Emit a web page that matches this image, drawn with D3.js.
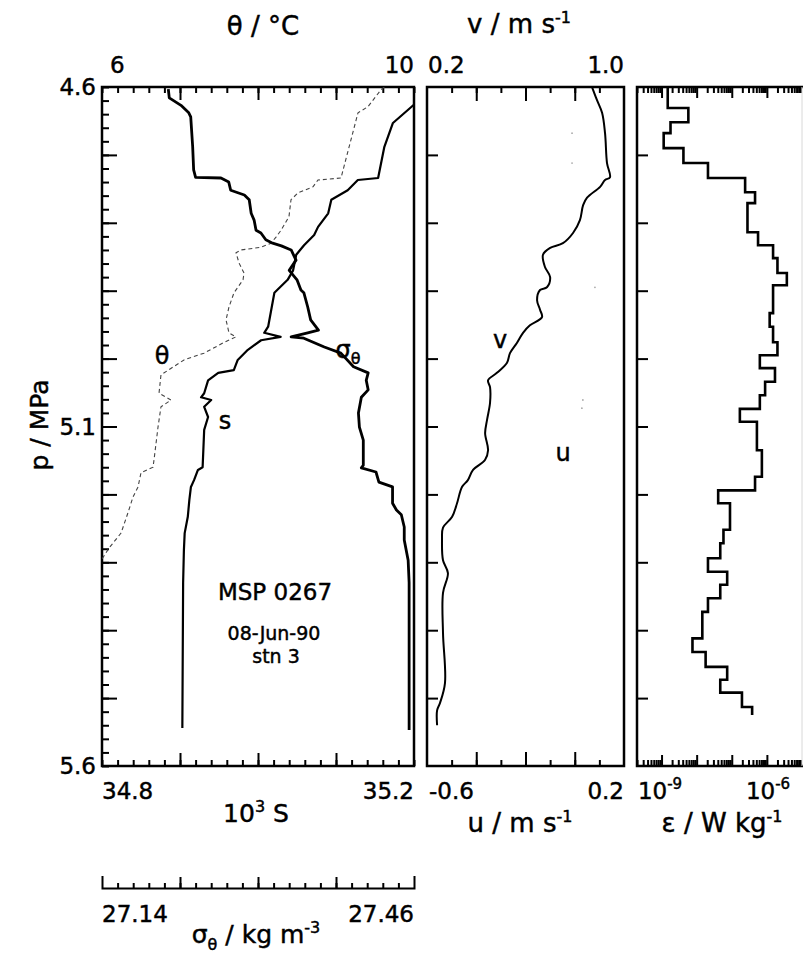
<!DOCTYPE html>
<html>
<head>
<meta charset="utf-8">
<script src="https://cdn.jsdelivr.net/npm/d3@7"></script>
<style>
body { margin: 0; background: #fff; }
svg text { font-family: "DejaVu Sans", sans-serif; fill: #000; stroke: #000; stroke-width: 0.45px; }
.tk line { stroke: #000; stroke-width: 2; }
</style>
</head>
<body>
<svg id="chart" width="803" height="958"></svg>
<script>

// sigma-theta profile, [pressure MPa, kg m-3]
var sigmaData = [[4.603,27.208],[4.616,27.209],[4.627,27.221],[4.638,27.229],[4.644,27.231],[4.688,27.233],[4.722,27.234],[4.733,27.236],[4.734,27.262],[4.740,27.270],[4.752,27.272],[4.759,27.286],[4.766,27.291],[4.786,27.293],[4.796,27.296],[4.811,27.298],[4.815,27.303],[4.825,27.308],[4.830,27.315],[4.834,27.324],[4.840,27.334],[4.855,27.339],[4.870,27.332],[4.884,27.340],[4.899,27.344],[4.903,27.347],[4.924,27.351],[4.943,27.354],[4.958,27.362],[4.962,27.351],[4.968,27.334],[4.970,27.347],[4.983,27.368],[4.992,27.385],[5.012,27.398],[5.021,27.413],[5.032,27.411],[5.046,27.413],[5.057,27.406],[5.080,27.403],[5.101,27.404],[5.120,27.408],[5.157,27.408],[5.161,27.406],[5.167,27.421],[5.182,27.424],[5.189,27.438],[5.213,27.438],[5.223,27.442],[5.230,27.447],[5.248,27.450],[5.267,27.450],[5.297,27.454],[5.330,27.455],[5.503,27.455],[5.547,27.455]]

// salinity, [p, 10^3 S]
var salData = [[4.610,35.215],[4.625,35.201],[4.653,35.173],[4.688,35.162],[4.734,35.154],[4.737,35.128],[4.752,35.115],[4.766,35.094],[4.786,35.090],[4.806,35.077],[4.818,35.072],[4.833,35.059],[4.847,35.049],[4.870,35.045],[4.884,35.038],[4.903,35.021],[4.928,35.017],[4.953,35.013],[4.962,35.008],[4.968,35.029],[4.973,35.004],[4.987,34.987],[5.002,34.974],[5.017,34.969],[5.021,34.949],[5.032,34.936],[5.051,34.931],[5.057,34.927],[5.061,34.940],[5.071,34.931],[5.086,34.936],[5.105,34.931],[5.160,34.929],[5.164,34.923],[5.179,34.918],[5.189,34.914],[5.208,34.912],[5.233,34.910],[5.257,34.906],[5.282,34.905],[5.330,34.904],[5.544,34.903]]

// potential temperature, [p, degC]
var thetaData = [[4.600,9.62],[4.604,9.577],[4.629,9.410],[4.638,9.282],[4.734,9.064],[4.737,8.769],[4.747,8.705],[4.756,8.513],[4.766,8.423],[4.791,8.397],[4.811,8.295],[4.821,8.231],[4.830,8.167],[4.836,8.038],[4.840,7.782],[4.844,7.718],[4.859,7.756],[4.874,7.821],[4.884,7.808],[4.903,7.692],[4.924,7.628],[4.943,7.590],[4.962,7.628],[4.968,7.718],[4.977,7.551],[4.992,7.308],[5.002,7.051],[5.024,6.756],[5.051,6.731],[5.061,6.885],[5.068,6.795],[5.071,6.756],[5.101,6.718],[5.149,6.667],[5.160,6.654],[5.168,6.500],[5.189,6.462],[5.204,6.397],[5.227,6.333],[5.257,6.244],[5.279,6.090],[5.297,5.990]]

// velocity v, [p, m/s]
var vData = [[4.600,0.870],[4.604,0.874],[4.619,0.890],[4.638,0.911],[4.668,0.923],[4.712,0.931],[4.733,0.943],[4.737,0.923],[4.747,0.903],[4.763,0.850],[4.774,0.834],[4.796,0.821],[4.815,0.793],[4.830,0.752],[4.837,0.700],[4.847,0.671],[4.865,0.679],[4.880,0.700],[4.895,0.687],[4.899,0.659],[4.914,0.647],[4.928,0.659],[4.939,0.667],[4.951,0.618],[4.962,0.590],[4.977,0.565],[4.992,0.537],[5.006,0.525],[5.021,0.484],[5.032,0.448],[5.042,0.456],[5.065,0.456],[5.090,0.444],[5.110,0.436],[5.135,0.448],[5.149,0.436],[5.164,0.387],[5.179,0.366],[5.189,0.342],[5.213,0.322],[5.233,0.302],[5.249,0.265],[5.267,0.261],[5.297,0.265],[5.316,0.285],[5.345,0.265],[5.404,0.265],[5.478,0.273],[5.507,0.253],[5.518,0.241],[5.540,0.241]]

// velocity u, barely printed, [p, m/s]
var uData = [[4.668,-0.011],[4.712,-0.011],[4.895,0.082],[5.061,0.033],[5.073,0.029]]

// dissipation rate, bin edges (MPa) and values (W/kg)
var epsEdges = [4.600,4.631,4.652,4.668,4.690,4.712,4.734,4.755,4.771,4.814,4.833,4.852,4.874,4.892,4.933,4.953,4.976,4.995,5.014,5.034,5.054,5.074,5.093,5.135,5.174,5.194,5.213,5.252,5.272,5.294,5.314,5.333,5.353,5.373,5.412,5.432,5.454,5.473,5.492,5.513,5.525]
var epsVals = [1.5e-9,5.8e-9,1.8e-9,1.15e-9,4.2e-9,2.1e-8,2.4e-7,4.6e-7,2.8e-7,5.6e-7,1.5e-6,2.0e-6,3.7e-6,1.5e-6,1.2e-6,1.5e-6,2.0e-6,6.3e-7,1.7e-6,8.9e-7,6.3e-7,1.7e-7,5.2e-7,7.2e-7,4.6e-7,4.1e-8,8.9e-8,5.8e-8,4.7e-8,2.1e-8,7.4e-8,4.7e-8,2.1e-8,1.45e-8,7.6e-9,1.8e-8,7.4e-8,4.7e-8,1.95e-7,3.8e-7]

// tick labels
var pLabels = [4.6, 5.1, 5.6]


var svg = d3.select("#chart")

var yTop = 87, yBot = 766
var L = {x0: 102, x1: 414}
var M = {x0: 427, x1: 624}
var R = {x0: 637, x1: 802}

var y = d3.scaleLinear().domain([4.6, 5.6]).range([yTop, yBot])
var xS = d3.scaleLinear().domain([34.8, 35.2]).range([L.x0, L.x1])
var xT = d3.scaleLinear().domain([6, 10]).range([L.x0, L.x1])
var xSig = d3.scaleLinear().domain([27.14, 27.46]).range([L.x0, L.x1])
var xV = d3.scaleLinear().domain([0.2, 1.0]).range([M.x0, M.x1])
var xU = d3.scaleLinear().domain([-0.6, 0.2]).range([M.x0, M.x1])
var xE = d3.scaleLog().domain([2e-10, 1e-5]).range([R.x0, R.x1])

function steps(start, step, n) {
	return d3.range(n).map(i => +(start + i * step).toFixed(4))
}

function ticks(axisFn, scale, vals, len, tr) {
	svg.append("g")
		.attr("class", "tk")
		.attr("transform", tr)
		.call(axisFn(scale).tickValues(vals).tickSize(len).tickSizeOuter(0).tickFormat(""))
		.call(g => g.select(".domain").remove())
}

// ---- tick marks (all pointing into the panels)
ticks(d3.axisBottom, xT, steps(6, 0.2, 21), 6, "translate(0," + yTop + ")")
ticks(d3.axisBottom, xT, steps(7, 1, 3), 13, "translate(0," + yTop + ")")
ticks(d3.axisTop, xS, steps(34.8, 0.02, 21), 6, "translate(0," + yBot + ")")
ticks(d3.axisTop, xS, steps(34.9, 0.1, 3), 13, "translate(0," + yBot + ")")
ticks(d3.axisRight, y, steps(4.6, 0.02, 51), 7, "translate(" + L.x0 + ",0)")
ticks(d3.axisRight, y, steps(4.7, 0.1, 9), 15, "translate(" + L.x0 + ",0)")

ticks(d3.axisBottom, xV, steps(0.3, 0.1, 7), 6, "translate(0," + yTop + ")")
ticks(d3.axisBottom, xV, steps(0.4, 0.2, 3), 14, "translate(0," + yTop + ")")
ticks(d3.axisTop, xU, steps(-0.5, 0.1, 7), 6, "translate(0," + yBot + ")")
ticks(d3.axisTop, xU, steps(-0.4, 0.2, 3), 14, "translate(0," + yBot + ")")
ticks(d3.axisRight, y, steps(4.7, 0.1, 9), 11, "translate(" + M.x0 + ",0)")

var logMinor = [], logMajor = []
d3.range(-10, -4).forEach(function(d) {
	d3.range(1, 10).forEach(function(k) {
		var v = k * Math.pow(10, d)
		if (v >= 2e-10 && v < 1e-5) {
			if (k === 1) logMajor.push(v)
			else logMinor.push(v)
		}
	})
})
ticks(d3.axisBottom, xE, logMinor, 6, "translate(0," + yTop + ")")
ticks(d3.axisBottom, xE, logMajor, 11, "translate(0," + yTop + ")")
ticks(d3.axisTop, xE, logMinor, 6, "translate(0," + yBot + ")")
ticks(d3.axisTop, xE, logMajor, 11, "translate(0," + yBot + ")")
ticks(d3.axisRight, y, steps(4.7, 0.1, 9), 11, "translate(" + R.x0 + ",0)")

// separate sigma-theta scale underneath
var sigAxis = svg.append("g")
	.attr("class", "tk")
	.attr("transform", "translate(0,888)")
	.call(d3.axisTop(xSig).tickValues(steps(27.156, 0.016, 19)).tickSize(5).tickSizeOuter(12).tickFormat(""))
sigAxis.select(".domain").attr("fill", "none").attr("stroke", "#000").attr("stroke-width", 2)
svg.append("g")
	.attr("class", "tk")
	.attr("transform", "translate(0,888)")
	.call(d3.axisTop(xSig).tickValues(steps(27.22, 0.08, 3)).tickSize(11).tickSizeOuter(0).tickFormat(""))
	.call(g => g.select(".domain").remove())

// ---- frames
svg.append("rect").attr("x", L.x0).attr("y", yTop).attr("width", L.x1 - L.x0).attr("height", yBot - yTop)
	.attr("fill", "none").attr("stroke", "#000").attr("stroke-width", 2.5)
svg.append("rect").attr("x", M.x0).attr("y", yTop).attr("width", M.x1 - M.x0).attr("height", yBot - yTop)
	.attr("fill", "none").attr("stroke", "#000").attr("stroke-width", 2.5)
svg.append("path")
	.attr("d", "M" + (R.x1 + 2) + "," + yTop + "H" + R.x0 + "V" + yBot + "H" + (R.x1 + 2))
	.attr("fill", "none").attr("stroke", "#000").attr("stroke-width", 2.5)
svg.append("line").attr("x1", R.x1).attr("x2", R.x1).attr("y1", yTop).attr("y2", yBot)
	.attr("stroke", "#d8d8d8").attr("stroke-width", 1)

// ---- clip paths
var defs = svg.append("defs")
;[["clipL", L], ["clipM", M], ["clipR", R]].forEach(function(c) {
	defs.append("clipPath").attr("id", c[0]).append("rect")
		.attr("x", c[1].x0).attr("y", yTop).attr("width", c[1].x1 - c[1].x0).attr("height", yBot - yTop)
})

// ---- left panel curves
svg.append("path")
	.datum(thetaData)
	.attr("clip-path", "url(#clipL)")
	.attr("d", d3.line().x(d => xT(d[1])).y(d => y(d[0])))
	.attr("fill", "none").attr("stroke", "#444").attr("stroke-width", 1.1)
	.attr("stroke-dasharray", "4 3")

svg.append("path")
	.datum(salData)
	.attr("clip-path", "url(#clipL)")
	.attr("d", d3.line().x(d => xS(d[1])).y(d => y(d[0])))
	.attr("fill", "none").attr("stroke", "#000").attr("stroke-width", 2.2)
	.attr("stroke-linejoin", "round")

svg.append("path")
	.datum(sigmaData)
	.attr("clip-path", "url(#clipL)")
	.attr("d", d3.line().x(d => xSig(d[1])).y(d => y(d[0])))
	.attr("fill", "none").attr("stroke", "#000").attr("stroke-width", 2.8)
	.attr("stroke-linejoin", "round")

// ---- middle panel
svg.append("path")
	.datum(vData)
	.attr("clip-path", "url(#clipM)")
	.attr("d", d3.line().x(d => xV(d[1])).y(d => y(d[0])).curve(d3.curveCatmullRom))
	.attr("fill", "none").attr("stroke", "#000").attr("stroke-width", 2)

svg.selectAll(".udot")
	.data(uData)
	.enter()
	.append("circle")
	.attr("class", "udot")
	.attr("cx", d => xU(d[1]))
	.attr("cy", d => y(d[0]))
	.attr("r", 0.9)
	.attr("fill", "#aaa")

// ---- right panel staircase
var epsPts = []
epsVals.forEach(function(e, i) {
	epsPts.push([epsEdges[i], e])
	epsPts.push([epsEdges[i + 1], e])
})
svg.append("path")
	.datum(epsPts)
	.attr("clip-path", "url(#clipR)")
	.attr("d", d3.line().x(d => xE(d[1])).y(d => y(d[0])))
	.attr("fill", "none").attr("stroke", "#000").attr("stroke-width", 2.6)

// ---- text
function label(x, yy, txt, size, anchor) {
	return svg.append("text")
		.attr("x", x).attr("y", yy)
		.attr("font-size", size)
		.attr("text-anchor", anchor || "middle")
		.text(txt)
}
function sup(t, s, size, rest) {
	t.append("tspan").attr("dy", -10).attr("font-size", size).text(s)
	if (rest) t.append("tspan").attr("dy", 10).text(rest)
	return t
}

pLabels.forEach(function(p) {
	svg.append("text")
		.attr("x", 96).attr("y", y(p))
		.attr("dy", "0.36em")
		.attr("font-size", 23)
		.attr("text-anchor", "end")
		.text(d3.format(".1f")(p))
})

svg.append("text")
	.attr("transform", "translate(48,425) rotate(-90)")
	.attr("font-size", 25)
	.attr("text-anchor", "middle")
	.text("p / MPa")

// top
label(263, 35, "θ / °C", 26)
label(110, 73, "6", 23, "start")
label(L.x1, 73, "10", 23, "end")
sup(label(519, 33, "v / m s", 26), "-1", 16)
label(M.x0 + 1, 73, "0.2", 23, "start")
label(M.x1, 73, "1.0", 23, "end")

// bottom
label(L.x0, 799, "34.8", 23, "start")
label(L.x1, 799, "35.2", 23, "end")
sup(label(256, 822, "10", 25), "3", 16, " S")
label(M.x0 + 2, 799, "-0.6", 23, "start")
label(M.x1, 799, "0.2", 23, "end")
sup(label(520, 832, "u / m s", 26), "-1", 16)
sup(label(660, 799, "10", 23), "-9", 15)
sup(label(768, 799, "10", 23), "-6", 15)
sup(label(722, 832, "ε / W kg", 26), "-1", 16)

// sigma scale labels
label(L.x0, 922, "27.14", 23, "start")
label(L.x1, 922, "27.46", 23, "end")
var sl = label(256, 943, "σ", 25)
sl.append("tspan").attr("dy", 7).attr("font-size", 16).text("θ")
sl.append("tspan").attr("dy", -7).text(" / kg m")
sl.append("tspan").attr("dy", -10).attr("font-size", 16).text("-3")

// curve labels
label(162, 364, "θ", 24)
label(225, 429, "s", 24)
var sg = label(348, 358, "σ", 24)
sg.append("tspan").attr("dy", 6).attr("font-size", 16).text("θ")
label(500, 348, "v", 24)
label(563, 461, "u", 24)

label(275, 600, "MSP 0267", 23)
label(274, 640, "08-Jun-90", 19)
label(276, 663, "stn 3", 19)

</script>
</body>
</html>
